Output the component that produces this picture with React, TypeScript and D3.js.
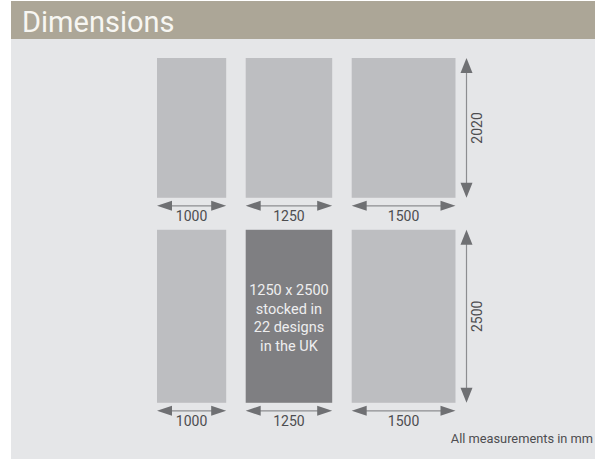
import React from "react";
import * as d3 from "d3";

const widthsMm = [1000, 1250, 1500];
const heightsMm = [2020, 2500];
const widthLabels = ["1000", "1250", "1500"];
const heightLabels = ["2020", "2500"];
const highlight = { row: 1, col: 1 };
const highlightLines = ["1250 x 2500", "stocked in", "22 designs", "in the UK"];
const title = "Dimensions";
const footnote = "All measurements in mm";

const W = 595;
const H = 459;
const FONT = "Roboto, 'Noto Sans', sans-serif";

export default function App() {
  const mm = d3.scaleLinear().domain([0, 1000]).range([0, 69.2]);
  const colGap = 19.5;
  const rowGap = 32;
  const x0 = 157;
  const y0 = 58;

  const colX: number[] = [];
  let cx = x0;
  widthsMm.forEach((w) => {
    colX.push(cx);
    cx += mm(w) + colGap;
  });
  const rowY: number[] = [];
  let cy = y0;
  heightsMm.forEach((h) => {
    rowY.push(cy);
    cy += mm(h) + rowGap;
  });
  const lastCol = widthsMm.length - 1;
  const rightEdge = colX[lastCol] + mm(widthsMm[lastCol]);
  const vx = rightEdge + 11;

  const arrowFill = "#6f7073";
  const lineCol = "#8c8d90";

  return (
    <svg width={W} height={H} style={{ position: "absolute", left: 0, top: 0 }}>
      <rect x={0} y={0} width={W} height={H} fill="#ffffff" />
      <rect x={11} y={39} width={W - 11} height={H - 39} fill="#e5e6e8" />
      <rect x={11} y={1} width={W - 11} height={38} fill="#aca697" />
      <text x={22} y={32} fontFamily={FONT} fontSize={29} fontWeight={400} fill="#f7f6f2">
        {title}
      </text>

      {heightsMm.map((hm, r) => {
        const y = rowY[r];
        const h = mm(hm);
        const bottom = y + h;
        return (
          <g key={"row" + r}>
            {widthsMm.map((wm, c) => {
              const x = colX[c];
              const w = mm(wm);
              const isHi = highlight.row === r && highlight.col === c;
              const ay = bottom + 8;
              return (
                <g key={"c" + c}>
                  <rect x={x} y={y} width={w} height={h} fill={isHi ? "#7f7f82" : "#bdbec1"} />
                  {isHi &&
                    highlightLines.map((t, i) => (
                      <text
                        key={i}
                        x={x + w / 2}
                        y={y + 60 + i * 18.8 + 5}
                        textAnchor="middle"
                        fontFamily={FONT}
                        fontSize={14.5}
                        fill="#eeeeef"
                      >
                        {t}
                      </text>
                    ))}
                  <line x1={x + 10} x2={x + w - 10} y1={ay} y2={ay} stroke={lineCol} strokeWidth={1.2} />
                  <path d={`M${x},${ay} L${x + 15},${ay - 5} L${x + 15},${ay + 5} Z`} fill={arrowFill} />
                  <path d={`M${x + w},${ay} L${x + w - 15},${ay - 5} L${x + w - 15},${ay + 5} Z`} fill={arrowFill} />
                  <text
                    x={x + w / 2}
                    y={ay + 15.5}
                    textAnchor="middle"
                    fontFamily={FONT}
                    fontSize={14}
                    fill="#4d4d50"
                  >
                    {widthLabels[c]}
                  </text>
                </g>
              );
            })}
            <line x1={vx} x2={vx} y1={y + 10} y2={bottom - 10} stroke={lineCol} strokeWidth={1.2} />
            <path d={`M${vx},${y} L${vx - 6},${y + 15} L${vx + 6},${y + 15} Z`} fill={arrowFill} />
            <path d={`M${vx},${bottom} L${vx - 6},${bottom - 15} L${vx + 6},${bottom - 15} Z`} fill={arrowFill} />
            <text
              transform={`translate(${vx + 15.5},${y + h / 2}) rotate(-90)`}
              textAnchor="middle"
              fontFamily={FONT}
              fontSize={14}
              fill="#4d4d50"
            >
              {heightLabels[r]}
            </text>
          </g>
        );
      })}

      <text x={593} y={443} textAnchor="end" fontFamily={FONT} fontSize={12.8} fill="#4d4d50">
        {footnote}
      </text>
    </svg>
  );
}
